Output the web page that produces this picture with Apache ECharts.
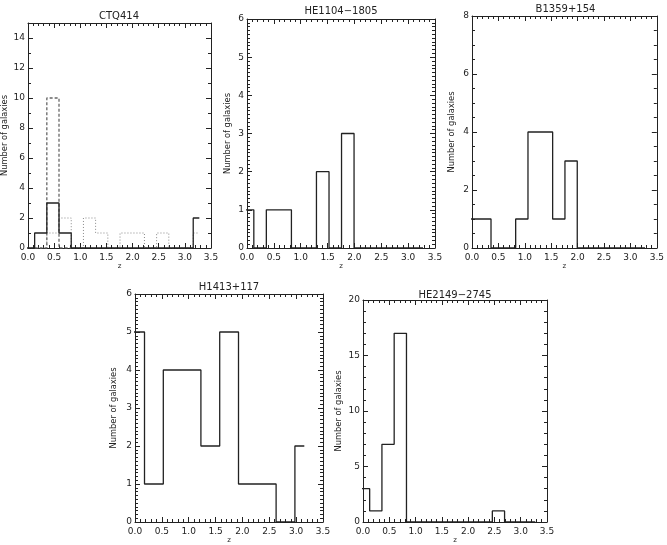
<!DOCTYPE html>
<html>
<head>
<meta charset="utf-8">
<script src="https://cdn.jsdelivr.net/npm/echarts@6/dist/echarts.min.js"></script>
<style>
  html, body { margin: 0; padding: 0; background: #fff; }
  #main { width: 667px; height: 545px; }
</style>
</head>
<body>
<div id="main"></div>
<script>
// bin edges (redshift z)
const edgesNarrow = [-0.106, 0.127, 0.36, 0.593, 0.827, 1.06, 1.293, 1.527, 1.76, 1.993, 2.227, 2.46, 2.693, 2.927, 3.16, 3.277];
const edgesWide = [-0.173, 0.177, 0.527, 0.877, 1.227, 1.577, 1.927, 2.277, 2.627, 2.977, 3.152];
const edgesPeak = [0.127, 0.36, 0.593, 0.827];

// counts per bin
const ctqSolid  = [0, 1, 3, 1, 0, 0, 0, 0, 0, 0, 0, 0, 0, 0, 2];
const ctqDotted = [0, 0, 1, 2, 0, 2, 1, 0, 1, 1, 0, 1, 0, 0, 1];
const ctqDashed = [0, 10, 0];
const he1104    = [1, 0, 1, 1, 0, 0, 2, 0, 3, 0, 0, 0, 0, 0, 0];
const b1359     = [1, 1, 0, 0, 1, 4, 4, 1, 3, 0, 0, 0, 0, 0, 0];
const h1413     = [5, 1, 4, 4, 2, 5, 1, 1, 0, 2];
const he2149    = [3, 1, 7, 17, 0, 0, 0, 0, 0, 0, 0, 1, 0, 0, 0];

const titles = ['CTQ414', 'HE1104\u22121805', 'B1359+154', 'H1413+117', 'HE2149\u22122745'];
const yMax = [15, 6, 8, 6, 20];
const yStep = [2, 1, 2, 1, 5];
const yMinor = [2, 10, 4, 10, 5];

const font = 'DejaVu Sans';
const ink = '#222';

// grid boxes: left, top, width, height, y-name gap, title top
const boxes = [
    [27, 23, 184, 225, 19, 11],
    [247, 19, 188, 229, 15, 6],
    [472, 16, 187, 232, 16, 4],
    [135, 294, 188, 231, 17, 282],
    [363, 300, 184, 226, 20, 290]
];

function steps(edges, counts) {
    return edges.map((e, i) => [e, counts[Math.min(i, counts.length - 1)]]);
}

const chart = echarts.init(document.getElementById('main'));

const grid = [], xAxis = [], yAxis = [], title = [], series = [];

boxes.forEach((b, i) => {
    grid.push({ left: b[0], top: b[1], width: b[2], height: b[3] });
    title.push({
        text: titles[i],
        left: b[0] + b[2] / 2,
        top: b[5],
        padding: 0,
        textAlign: 'center',
        textStyle: { fontFamily: font, fontSize: 10, fontWeight: 'normal', color: ink }
    });
    const frame = { show: true, onZero: false, lineStyle: { color: ink, width: 1 } };
    const tick = { show: true, inside: true, length: 5, lineStyle: { color: ink, width: 1 } };
    const minorX = { show: true, splitNumber: 5, length: 3, lineStyle: { color: ink, width: 1 } };
    const minorY = { show: true, splitNumber: yMinor[i], length: 3, lineStyle: { color: ink, width: 1 } };
    xAxis.push({
        type: 'value', gridIndex: i, position: 'bottom', min: 0, max: 3.5, interval: 0.5,
        name: 'z', nameLocation: 'middle', nameGap: 15,
        nameTextStyle: { fontFamily: font, fontSize: 7, color: ink },
        axisLine: frame, axisTick: tick, minorTick: minorX, splitLine: { show: false },
        axisLabel: { fontFamily: font, fontSize: 9, color: ink, margin: 5,
            formatter: v => v.toFixed(1) }
    });
    xAxis.push({
        type: 'value', gridIndex: i, position: 'top', min: 0, max: 3.5, interval: 0.5,
        axisLine: frame, axisTick: tick, minorTick: minorX, splitLine: { show: false },
        axisLabel: { show: false }
    });
    yAxis.push({
        type: 'value', gridIndex: i, position: 'left', min: 0, max: yMax[i], interval: yStep[i],
        name: 'Number of galaxies', nameLocation: 'middle', nameGap: b[4], nameRotate: 90,
        nameTextStyle: { fontFamily: font, fontSize: 8.3, color: ink },
        axisLine: frame, axisTick: tick, minorTick: minorY, splitLine: { show: false },
        axisLabel: { fontFamily: font, fontSize: 9, color: ink, margin: 3, showMaxLabel: yMax[i] % yStep[i] === 0 }
    });
    yAxis.push({
        type: 'value', gridIndex: i, position: 'right', min: 0, max: yMax[i], interval: yStep[i],
        axisLine: frame, axisTick: tick, minorTick: minorY, splitLine: { show: false },
        axisLabel: { show: false }
    });
});

function hist(panel, edges, counts, style) {
    series.push({
        type: 'line', xAxisIndex: panel * 2, yAxisIndex: panel * 2,
        data: steps(edges, counts), step: 'end', symbol: 'none', clip: true,
        silent: true, lineStyle: style
    });
}

const solid = { color: '#222', width: 1.3, type: 'solid' };
hist(0, edgesNarrow, ctqDotted, { color: '#888', width: 1, type: [1, 2] });
hist(0, edgesPeak, ctqDashed, { color: '#666', width: 1.3, type: [3, 2] });
hist(0, edgesNarrow, ctqSolid, solid);
hist(1, edgesNarrow, he1104, solid);
hist(2, edgesNarrow, b1359, solid);
hist(3, edgesWide, h1413, solid);
hist(4, edgesNarrow, he2149, solid);

chart.setOption({
    backgroundColor: '#fff',
    animation: false,
    title: title,
    grid: grid,
    xAxis: xAxis,
    yAxis: yAxis,
    series: series
});
</script>
</body>
</html>
